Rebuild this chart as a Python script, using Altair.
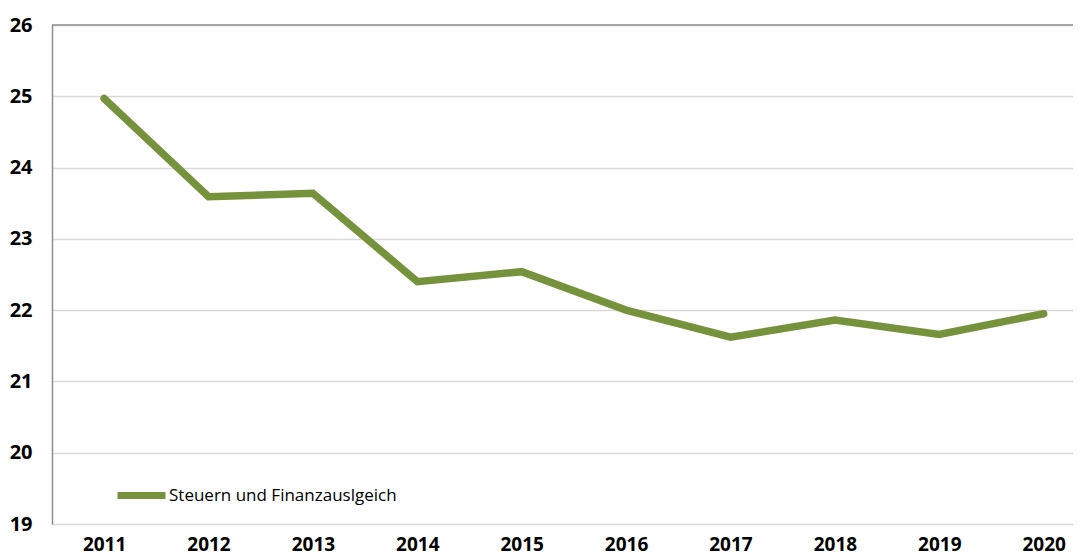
import altair as alt
import pandas as pd

years = ["2011", "2012", "2013", "2014", "2015", "2016", "2017", "2018", "2019", "2020"]
values = [24.97, 23.59, 23.64, 22.40, 22.54, 22.00, 21.62, 21.86, 21.66, 21.95]
series_name = "Steuern und Finanzauslgeich"
y_ticks = [19, 20, 21, 22, 23, 24, 25, 26]

df = pd.DataFrame({"Jahr": years, "Wert": values, "Serie": [series_name] * len(years)})
top_df = pd.DataFrame({"y": [26]})

FONT = "Open Sans"
GREEN = "#76923C"

line = alt.Chart(df).mark_line(strokeWidth=7.5, strokeCap="round", strokeJoin="miter").encode(
    x=alt.X("Jahr:N", sort=years, title=None,
            scale=alt.Scale(type="point", padding=0.39, align=0.64),
            axis=alt.Axis(labelAngle=0, domain=False, ticks=False, grid=False,
                          labelFont=FONT, labelFontSize=19, labelFontWeight="bold",
                          labelColor="#000000", labelPadding=11)),
    y=alt.Y("Wert:Q", title=None,
            scale=alt.Scale(domain=[19, 26], nice=False, zero=False),
            axis=alt.Axis(values=y_ticks, format="d", domain=True, domainColor="#8c8c8c",
                          domainWidth=1.5, ticks=False, grid=True, gridColor="#d9d9d9",
                          gridWidth=1.5, labelFont=FONT, labelFontSize=20,
                          labelFontWeight="bold", labelColor="#000000", labelPadding=20,
                          labelAlign="right")),
    color=alt.Color("Serie:N", title=None,
                    scale=alt.Scale(range=[GREEN]),
                    legend=alt.Legend(orient="none", legendX=62, legendY=443,
                                      symbolType="stroke", symbolStrokeWidth=7,
                                      symbolSize=2300, labelFont=FONT, labelFontSize=17,
                                      labelColor="#000000", labelOffset=0,
                                      labelLimit=400))
)

top_rule = alt.Chart(top_df).mark_rule(color="#8c8c8c", strokeWidth=1.5).encode(
    y=alt.Y("y:Q")
)

chart = alt.layer(line, top_rule).properties(
    width=1021, height=499,
    autosize=alt.AutoSizeParams(type="none"),
    padding={"left": 44, "top": 17, "right": 0, "bottom": 35},
).configure_view(stroke=None).configure(background="#ffffff")

chart.save("out.html", embed_options={"renderer": "svg", "actions": False})
